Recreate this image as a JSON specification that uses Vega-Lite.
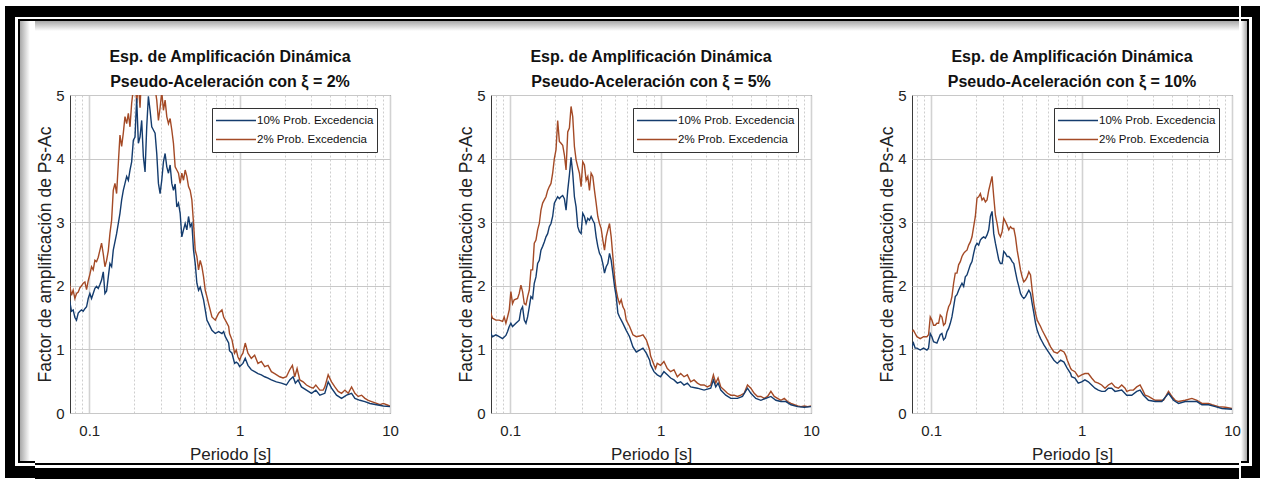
{
"$schema": "https://vega.github.io/schema/vega-lite/v6.json",
"background": "white",
"padding": {"left": 5, "top": 6, "right": 4, "bottom": 1},
"spacing": 0,
"resolve": {"scale": {"color": "independent"}, "legend": {"color": "independent"}},
"config": {
  "font": "Liberation Sans",
  "view": {"stroke": "#3a3a3a", "strokeWidth": 1},
  "title": {"font": "Liberation Sans", "fontSize": 16, "fontWeight": "bold", "lineHeight": 25, "offset": -2, "color": "#111111", "anchor": "middle"},
  "axis": {"labelFont": "Liberation Sans", "labelFontSize": 15, "labelColor": "#222222", "titleFont": "Liberation Sans", "titleFontWeight": "normal", "titleColor": "#222222", "titleFontSize": 17, "domain": false, "ticks": false, "labelFlush": false, "labelOverlap": false},
  "axisY": {"titleFont": "Liberation Sans", "titleFontSize": 17.5},
  "legend": {"orient": "top-right", "offset": 13, "fillColor": "white", "strokeColor": "#333333", "strokeWidth": 1, "padding": 3, "symbolType": "stroke", "symbolSize": 1600, "symbolStrokeWidth": 1.3, "labelFont": "Liberation Sans", "labelFontSize": 11.5, "labelColor": "#111111", "labelOffset": 0, "clipHeight": 19, "rowPadding": 0}
},
"data": {"values": [
{"p":1,"s":"2%","t":0.0725,"v":2.2},{"p":1,"s":"2%","t":0.0743,"v":2.0},{"p":1,"s":"2%","t":0.0762,"v":1.85},{"p":1,"s":"2%","t":0.0782,"v":1.93},{"p":1,"s":"2%","t":0.0803,"v":1.8},{"p":1,"s":"2%","t":0.0823,"v":1.88},{"p":1,"s":"2%","t":0.0845,"v":1.9},{"p":1,"s":"2%","t":0.0867,"v":1.97},{"p":1,"s":"2%","t":0.0889,"v":2.0},{"p":1,"s":"2%","t":0.0912,"v":2.04},{"p":1,"s":"2%","t":0.0936,"v":2.06},{"p":1,"s":"2%","t":0.096,"v":1.94},{"p":1,"s":"2%","t":0.0985,"v":2.08},{"p":1,"s":"2%","t":0.101,"v":2.18},{"p":1,"s":"2%","t":0.1036,"v":2.3},{"p":1,"s":"2%","t":0.1063,"v":2.25},{"p":1,"s":"2%","t":0.1091,"v":2.4},{"p":1,"s":"2%","t":0.1119,"v":2.38},{"p":1,"s":"2%","t":0.1148,"v":2.45},{"p":1,"s":"2%","t":0.1178,"v":2.56},{"p":1,"s":"2%","t":0.1208,"v":2.67},{"p":1,"s":"2%","t":0.124,"v":2.5},{"p":1,"s":"2%","t":0.1272,"v":2.3},{"p":1,"s":"2%","t":0.1305,"v":2.4},{"p":1,"s":"2%","t":0.1339,"v":2.55},{"p":1,"s":"2%","t":0.1373,"v":2.82},{"p":1,"s":"2%","t":0.1409,"v":3.03},{"p":1,"s":"2%","t":0.1445,"v":3.5},{"p":1,"s":"2%","t":0.1483,"v":3.61},{"p":1,"s":"2%","t":0.1521,"v":3.45},{"p":1,"s":"2%","t":0.1561,"v":3.92},{"p":1,"s":"2%","t":0.1601,"v":4.37},{"p":1,"s":"2%","t":0.1643,"v":4.19},{"p":1,"s":"2%","t":0.1685,"v":4.4},{"p":1,"s":"2%","t":0.1729,"v":4.66},{"p":1,"s":"2%","t":0.1774,"v":4.55},{"p":1,"s":"2%","t":0.182,"v":4.71},{"p":1,"s":"2%","t":0.1867,"v":4.5},{"p":1,"s":"2%","t":0.1915,"v":4.87},{"p":1,"s":"2%","t":0.1965,"v":5.1},{"p":1,"s":"2%","t":0.2016,"v":5.3},{"p":1,"s":"2%","t":0.2068,"v":4.87},{"p":1,"s":"2%","t":0.2122,"v":5.2},{"p":1,"s":"2%","t":0.2177,"v":4.8},{"p":1,"s":"2%","t":0.2233,"v":5.4},{"p":1,"s":"2%","t":0.2291,"v":5.2},{"p":1,"s":"2%","t":0.2351,"v":5.1},{"p":1,"s":"2%","t":0.2412,"v":5.4},{"p":1,"s":"2%","t":0.2474,"v":5.5},{"p":1,"s":"2%","t":0.2538,"v":5.3},{"p":1,"s":"2%","t":0.2604,"v":5.3},{"p":1,"s":"2%","t":0.2672,"v":5.2},{"p":1,"s":"2%","t":0.2741,"v":5.1},{"p":1,"s":"2%","t":0.2812,"v":4.92},{"p":1,"s":"2%","t":0.2885,"v":4.6},{"p":1,"s":"2%","t":0.296,"v":4.8},{"p":1,"s":"2%","t":0.3036,"v":5.05},{"p":1,"s":"2%","t":0.3115,"v":4.76},{"p":1,"s":"2%","t":0.3196,"v":4.92},{"p":1,"s":"2%","t":0.3279,"v":4.66},{"p":1,"s":"2%","t":0.3364,"v":4.55},{"p":1,"s":"2%","t":0.3451,"v":4.63},{"p":1,"s":"2%","t":0.3541,"v":4.45},{"p":1,"s":"2%","t":0.3632,"v":4.24},{"p":1,"s":"2%","t":0.3727,"v":3.87},{"p":1,"s":"2%","t":0.3823,"v":3.82},{"p":1,"s":"2%","t":0.3922,"v":3.77},{"p":1,"s":"2%","t":0.4024,"v":3.61},{"p":1,"s":"2%","t":0.4128,"v":3.77},{"p":1,"s":"2%","t":0.4235,"v":3.66},{"p":1,"s":"2%","t":0.4345,"v":3.82},{"p":1,"s":"2%","t":0.4458,"v":3.72},{"p":1,"s":"2%","t":0.4574,"v":3.56},{"p":1,"s":"2%","t":0.4692,"v":3.5},{"p":1,"s":"2%","t":0.4814,"v":3.35},{"p":1,"s":"2%","t":0.4939,"v":2.98},{"p":1,"s":"2%","t":0.5067,"v":2.56},{"p":1,"s":"2%","t":0.5198,"v":2.46},{"p":1,"s":"2%","t":0.5333,"v":2.25},{"p":1,"s":"2%","t":0.5471,"v":2.4},{"p":1,"s":"2%","t":0.5613,"v":2.3},{"p":1,"s":"2%","t":0.5759,"v":2.14},{"p":1,"s":"2%","t":0.5908,"v":1.93},{"p":1,"s":"2%","t":0.6061,"v":1.83},{"p":1,"s":"2%","t":0.6218,"v":1.72},{"p":1,"s":"2%","t":0.6545,"v":1.51},{"p":1,"s":"2%","t":0.6889,"v":1.46},{"p":1,"s":"2%","t":0.7251,"v":1.57},{"p":1,"s":"2%","t":0.7632,"v":1.62},{"p":1,"s":"2%","t":0.783,"v":1.51},{"p":1,"s":"2%","t":0.8033,"v":1.46},{"p":1,"s":"2%","t":0.8455,"v":1.36},{"p":1,"s":"2%","t":0.857,"v":1.25},{"p":1,"s":"2%","t":0.8899,"v":1.15},{"p":1,"s":"2%","t":0.903,"v":1.07},{"p":1,"s":"2%","t":0.926,"v":0.94},{"p":1,"s":"2%","t":0.95,"v":0.99},{"p":1,"s":"2%","t":0.975,"v":0.88},{"p":1,"s":"2%","t":1.0,"v":0.83},{"p":1,"s":"2%","t":1.026,"v":0.9},{"p":1,"s":"2%","t":1.052,"v":0.94},{"p":1,"s":"2%","t":1.09,"v":1.1},{"p":1,"s":"2%","t":1.136,"v":0.94},{"p":1,"s":"2%","t":1.196,"v":0.86},{"p":1,"s":"2%","t":1.259,"v":0.91},{"p":1,"s":"2%","t":1.325,"v":0.78},{"p":1,"s":"2%","t":1.395,"v":0.81},{"p":1,"s":"2%","t":1.468,"v":0.73},{"p":1,"s":"2%","t":1.545,"v":0.75},{"p":1,"s":"2%","t":1.626,"v":0.65},{"p":1,"s":"2%","t":1.711,"v":0.62},{"p":1,"s":"2%","t":1.848,"v":0.57},{"p":1,"s":"2%","t":1.945,"v":0.55},{"p":1,"s":"2%","t":2.047,"v":0.57},{"p":1,"s":"2%","t":2.154,"v":0.68},{"p":1,"s":"2%","t":2.244,"v":0.75},{"p":1,"s":"2%","t":2.326,"v":0.57},{"p":1,"s":"2%","t":2.411,"v":0.7},{"p":1,"s":"2%","t":2.512,"v":0.52},{"p":1,"s":"2%","t":2.644,"v":0.49},{"p":1,"s":"2%","t":2.783,"v":0.44},{"p":1,"s":"2%","t":2.929,"v":0.41},{"p":1,"s":"2%","t":3.083,"v":0.39},{"p":1,"s":"2%","t":3.211,"v":0.44},{"p":1,"s":"2%","t":3.415,"v":0.36},{"p":1,"s":"2%","t":3.594,"v":0.36},{"p":1,"s":"2%","t":3.687,"v":0.41},{"p":1,"s":"2%","t":3.881,"v":0.6},{"p":1,"s":"2%","t":4.085,"v":0.49},{"p":1,"s":"2%","t":4.299,"v":0.41},{"p":1,"s":"2%","t":4.525,"v":0.34},{"p":1,"s":"2%","t":4.763,"v":0.31},{"p":1,"s":"2%","t":5.013,"v":0.36},{"p":1,"s":"2%","t":5.276,"v":0.31},{"p":1,"s":"2%","t":5.553,"v":0.41},{"p":1,"s":"2%","t":5.844,"v":0.31},{"p":1,"s":"2%","t":6.151,"v":0.26},{"p":1,"s":"2%","t":6.474,"v":0.28},{"p":1,"s":"2%","t":6.814,"v":0.23},{"p":1,"s":"2%","t":7.172,"v":0.2},{"p":1,"s":"2%","t":7.548,"v":0.18},{"p":1,"s":"2%","t":8.151,"v":0.15},{"p":1,"s":"2%","t":8.579,"v":0.13},{"p":1,"s":"2%","t":9.029,"v":0.15},{"p":1,"s":"2%","t":9.503,"v":0.13},{"p":1,"s":"2%","t":10,"v":0.11},
{"p":1,"s":"10%","t":0.0725,"v":1.8},{"p":1,"s":"10%","t":0.0743,"v":1.75},{"p":1,"s":"10%","t":0.0762,"v":1.6},{"p":1,"s":"10%","t":0.0782,"v":1.62},{"p":1,"s":"10%","t":0.0803,"v":1.5},{"p":1,"s":"10%","t":0.0823,"v":1.46},{"p":1,"s":"10%","t":0.0845,"v":1.57},{"p":1,"s":"10%","t":0.0867,"v":1.6},{"p":1,"s":"10%","t":0.0889,"v":1.62},{"p":1,"s":"10%","t":0.0912,"v":1.6},{"p":1,"s":"10%","t":0.0936,"v":1.64},{"p":1,"s":"10%","t":0.096,"v":1.67},{"p":1,"s":"10%","t":0.0985,"v":1.8},{"p":1,"s":"10%","t":0.101,"v":1.88},{"p":1,"s":"10%","t":0.1036,"v":1.8},{"p":1,"s":"10%","t":0.1063,"v":1.88},{"p":1,"s":"10%","t":0.1091,"v":1.96},{"p":1,"s":"10%","t":0.1119,"v":1.99},{"p":1,"s":"10%","t":0.1148,"v":1.96},{"p":1,"s":"10%","t":0.1178,"v":2.02},{"p":1,"s":"10%","t":0.1208,"v":2.09},{"p":1,"s":"10%","t":0.124,"v":2.22},{"p":1,"s":"10%","t":0.1272,"v":1.88},{"p":1,"s":"10%","t":0.1305,"v":1.92},{"p":1,"s":"10%","t":0.1339,"v":2.14},{"p":1,"s":"10%","t":0.1373,"v":2.35},{"p":1,"s":"10%","t":0.1409,"v":2.3},{"p":1,"s":"10%","t":0.1445,"v":2.56},{"p":1,"s":"10%","t":0.1521,"v":2.82},{"p":1,"s":"10%","t":0.1561,"v":2.98},{"p":1,"s":"10%","t":0.1601,"v":3.14},{"p":1,"s":"10%","t":0.1643,"v":3.35},{"p":1,"s":"10%","t":0.1685,"v":3.5},{"p":1,"s":"10%","t":0.1729,"v":3.61},{"p":1,"s":"10%","t":0.1774,"v":3.72},{"p":1,"s":"10%","t":0.182,"v":3.66},{"p":1,"s":"10%","t":0.1867,"v":3.82},{"p":1,"s":"10%","t":0.1915,"v":3.95},{"p":1,"s":"10%","t":0.1965,"v":4.29},{"p":1,"s":"10%","t":0.2016,"v":4.34},{"p":1,"s":"10%","t":0.2068,"v":4.95},{"p":1,"s":"10%","t":0.2122,"v":4.24},{"p":1,"s":"10%","t":0.2177,"v":4.34},{"p":1,"s":"10%","t":0.2233,"v":4.6},{"p":1,"s":"10%","t":0.2291,"v":4.03},{"p":1,"s":"10%","t":0.2351,"v":3.79},{"p":1,"s":"10%","t":0.2412,"v":4.5},{"p":1,"s":"10%","t":0.2474,"v":4.98},{"p":1,"s":"10%","t":0.2538,"v":4.76},{"p":1,"s":"10%","t":0.2604,"v":4.5},{"p":1,"s":"10%","t":0.2672,"v":4.45},{"p":1,"s":"10%","t":0.2741,"v":4.4},{"p":1,"s":"10%","t":0.2812,"v":4.08},{"p":1,"s":"10%","t":0.2885,"v":3.61},{"p":1,"s":"10%","t":0.296,"v":3.45},{"p":1,"s":"10%","t":0.3036,"v":3.66},{"p":1,"s":"10%","t":0.3115,"v":3.95},{"p":1,"s":"10%","t":0.3196,"v":4.08},{"p":1,"s":"10%","t":0.3279,"v":3.87},{"p":1,"s":"10%","t":0.3364,"v":3.77},{"p":1,"s":"10%","t":0.3451,"v":3.9},{"p":1,"s":"10%","t":0.3541,"v":3.61},{"p":1,"s":"10%","t":0.3632,"v":3.5},{"p":1,"s":"10%","t":0.3727,"v":3.6},{"p":1,"s":"10%","t":0.3823,"v":3.24},{"p":1,"s":"10%","t":0.3922,"v":3.3},{"p":1,"s":"10%","t":0.4024,"v":3.14},{"p":1,"s":"10%","t":0.4128,"v":2.77},{"p":1,"s":"10%","t":0.4235,"v":2.88},{"p":1,"s":"10%","t":0.4345,"v":2.98},{"p":1,"s":"10%","t":0.4458,"v":2.88},{"p":1,"s":"10%","t":0.4574,"v":3.09},{"p":1,"s":"10%","t":0.4692,"v":2.93},{"p":1,"s":"10%","t":0.4814,"v":2.98},{"p":1,"s":"10%","t":0.4939,"v":2.56},{"p":1,"s":"10%","t":0.5067,"v":2.35},{"p":1,"s":"10%","t":0.5198,"v":2.04},{"p":1,"s":"10%","t":0.5333,"v":1.93},{"p":1,"s":"10%","t":0.5471,"v":1.98},{"p":1,"s":"10%","t":0.5613,"v":1.88},{"p":1,"s":"10%","t":0.5759,"v":1.78},{"p":1,"s":"10%","t":0.5908,"v":1.62},{"p":1,"s":"10%","t":0.6061,"v":1.46},{"p":1,"s":"10%","t":0.6218,"v":1.41},{"p":1,"s":"10%","t":0.6545,"v":1.3},{"p":1,"s":"10%","t":0.6889,"v":1.25},{"p":1,"s":"10%","t":0.7251,"v":1.28},{"p":1,"s":"10%","t":0.7632,"v":1.25},{"p":1,"s":"10%","t":0.783,"v":1.28},{"p":1,"s":"10%","t":0.8033,"v":1.2},{"p":1,"s":"10%","t":0.8455,"v":1.1},{"p":1,"s":"10%","t":0.857,"v":0.98},{"p":1,"s":"10%","t":0.8899,"v":0.94},{"p":1,"s":"10%","t":0.926,"v":0.78},{"p":1,"s":"10%","t":0.95,"v":0.8},{"p":1,"s":"10%","t":0.975,"v":0.78},{"p":1,"s":"10%","t":1.0,"v":0.73},{"p":1,"s":"10%","t":1.052,"v":0.78},{"p":1,"s":"10%","t":1.09,"v":0.86},{"p":1,"s":"10%","t":1.136,"v":0.75},{"p":1,"s":"10%","t":1.196,"v":0.68},{"p":1,"s":"10%","t":1.259,"v":0.65},{"p":1,"s":"10%","t":1.325,"v":0.62},{"p":1,"s":"10%","t":1.395,"v":0.6},{"p":1,"s":"10%","t":1.468,"v":0.57},{"p":1,"s":"10%","t":1.545,"v":0.55},{"p":1,"s":"10%","t":1.626,"v":0.52},{"p":1,"s":"10%","t":1.756,"v":0.49},{"p":1,"s":"10%","t":1.896,"v":0.47},{"p":1,"s":"10%","t":2.047,"v":0.44},{"p":1,"s":"10%","t":2.154,"v":0.52},{"p":1,"s":"10%","t":2.268,"v":0.57},{"p":1,"s":"10%","t":2.348,"v":0.47},{"p":1,"s":"10%","t":2.448,"v":0.52},{"p":1,"s":"10%","t":2.577,"v":0.41},{"p":1,"s":"10%","t":2.783,"v":0.36},{"p":1,"s":"10%","t":3.005,"v":0.31},{"p":1,"s":"10%","t":3.211,"v":0.36},{"p":1,"s":"10%","t":3.415,"v":0.28},{"p":1,"s":"10%","t":3.687,"v":0.31},{"p":1,"s":"10%","t":3.881,"v":0.49},{"p":1,"s":"10%","t":4.085,"v":0.39},{"p":1,"s":"10%","t":4.411,"v":0.28},{"p":1,"s":"10%","t":4.763,"v":0.23},{"p":1,"s":"10%","t":5.143,"v":0.28},{"p":1,"s":"10%","t":5.553,"v":0.31},{"p":1,"s":"10%","t":5.844,"v":0.23},{"p":1,"s":"10%","t":6.31,"v":0.2},{"p":1,"s":"10%","t":6.814,"v":0.18},{"p":1,"s":"10%","t":7.358,"v":0.15},{"p":1,"s":"10%","t":8.151,"v":0.13},{"p":1,"s":"10%","t":9.029,"v":0.11},{"p":1,"s":"10%","t":10,"v":0.1},
{"p":2,"s":"2%","t":0.0724,"v":1.7},{"p":2,"s":"2%","t":0.0743,"v":1.57},{"p":2,"s":"2%","t":0.0762,"v":1.49},{"p":2,"s":"2%","t":0.0803,"v":1.46},{"p":2,"s":"2%","t":0.0845,"v":1.46},{"p":2,"s":"2%","t":0.0889,"v":1.44},{"p":2,"s":"2%","t":0.0912,"v":1.51},{"p":2,"s":"2%","t":0.0936,"v":1.41},{"p":2,"s":"2%","t":0.096,"v":1.51},{"p":2,"s":"2%","t":0.0985,"v":1.62},{"p":2,"s":"2%","t":0.101,"v":1.91},{"p":2,"s":"2%","t":0.1036,"v":1.72},{"p":2,"s":"2%","t":0.1063,"v":1.78},{"p":2,"s":"2%","t":0.1119,"v":1.8},{"p":2,"s":"2%","t":0.1148,"v":1.88},{"p":2,"s":"2%","t":0.1178,"v":2.01},{"p":2,"s":"2%","t":0.1208,"v":1.91},{"p":2,"s":"2%","t":0.124,"v":1.72},{"p":2,"s":"2%","t":0.1272,"v":1.7},{"p":2,"s":"2%","t":0.1305,"v":1.83},{"p":2,"s":"2%","t":0.1339,"v":1.93},{"p":2,"s":"2%","t":0.1373,"v":2.25},{"p":2,"s":"2%","t":0.1409,"v":2.25},{"p":2,"s":"2%","t":0.1445,"v":2.67},{"p":2,"s":"2%","t":0.1483,"v":2.72},{"p":2,"s":"2%","t":0.1521,"v":2.88},{"p":2,"s":"2%","t":0.1561,"v":2.98},{"p":2,"s":"2%","t":0.1601,"v":3.19},{"p":2,"s":"2%","t":0.1643,"v":3.3},{"p":2,"s":"2%","t":0.1685,"v":3.35},{"p":2,"s":"2%","t":0.1729,"v":3.4},{"p":2,"s":"2%","t":0.1774,"v":3.5},{"p":2,"s":"2%","t":0.182,"v":3.56},{"p":2,"s":"2%","t":0.1867,"v":3.61},{"p":2,"s":"2%","t":0.1915,"v":3.77},{"p":2,"s":"2%","t":0.1965,"v":4.0},{"p":2,"s":"2%","t":0.2016,"v":4.14},{"p":2,"s":"2%","t":0.2068,"v":4.6},{"p":2,"s":"2%","t":0.2122,"v":4.27},{"p":2,"s":"2%","t":0.2177,"v":4.24},{"p":2,"s":"2%","t":0.2233,"v":4.21},{"p":2,"s":"2%","t":0.2291,"v":4.06},{"p":2,"s":"2%","t":0.2351,"v":3.82},{"p":2,"s":"2%","t":0.2412,"v":4.42},{"p":2,"s":"2%","t":0.2474,"v":4.48},{"p":2,"s":"2%","t":0.2538,"v":4.82},{"p":2,"s":"2%","t":0.2604,"v":4.66},{"p":2,"s":"2%","t":0.2672,"v":4.19},{"p":2,"s":"2%","t":0.2741,"v":3.98},{"p":2,"s":"2%","t":0.2812,"v":3.87},{"p":2,"s":"2%","t":0.2885,"v":3.77},{"p":2,"s":"2%","t":0.296,"v":3.56},{"p":2,"s":"2%","t":0.3036,"v":3.95},{"p":2,"s":"2%","t":0.3115,"v":3.9},{"p":2,"s":"2%","t":0.3196,"v":3.66},{"p":2,"s":"2%","t":0.3279,"v":3.72},{"p":2,"s":"2%","t":0.3364,"v":3.5},{"p":2,"s":"2%","t":0.3451,"v":3.77},{"p":2,"s":"2%","t":0.3541,"v":3.72},{"p":2,"s":"2%","t":0.3632,"v":3.5},{"p":2,"s":"2%","t":0.3727,"v":3.3},{"p":2,"s":"2%","t":0.3823,"v":3.09},{"p":2,"s":"2%","t":0.3922,"v":2.98},{"p":2,"s":"2%","t":0.4024,"v":2.9},{"p":2,"s":"2%","t":0.4128,"v":2.72},{"p":2,"s":"2%","t":0.4235,"v":2.56},{"p":2,"s":"2%","t":0.4345,"v":2.77},{"p":2,"s":"2%","t":0.4458,"v":2.88},{"p":2,"s":"2%","t":0.4574,"v":2.98},{"p":2,"s":"2%","t":0.4692,"v":2.77},{"p":2,"s":"2%","t":0.4814,"v":2.46},{"p":2,"s":"2%","t":0.4939,"v":2.14},{"p":2,"s":"2%","t":0.5067,"v":1.93},{"p":2,"s":"2%","t":0.5198,"v":1.8},{"p":2,"s":"2%","t":0.5333,"v":1.72},{"p":2,"s":"2%","t":0.5471,"v":1.78},{"p":2,"s":"2%","t":0.5613,"v":1.67},{"p":2,"s":"2%","t":0.5759,"v":1.62},{"p":2,"s":"2%","t":0.5908,"v":1.46},{"p":2,"s":"2%","t":0.6218,"v":1.36},{"p":2,"s":"2%","t":0.6545,"v":1.23},{"p":2,"s":"2%","t":0.6889,"v":1.2},{"p":2,"s":"2%","t":0.7251,"v":1.21},{"p":2,"s":"2%","t":0.7632,"v":1.23},{"p":2,"s":"2%","t":0.8033,"v":1.15},{"p":2,"s":"2%","t":0.8455,"v":0.99},{"p":2,"s":"2%","t":0.857,"v":0.9},{"p":2,"s":"2%","t":0.903,"v":0.76},{"p":2,"s":"2%","t":0.926,"v":0.7},{"p":2,"s":"2%","t":0.95,"v":0.78},{"p":2,"s":"2%","t":1.0,"v":0.75},{"p":2,"s":"2%","t":1.052,"v":0.81},{"p":2,"s":"2%","t":1.108,"v":0.7},{"p":2,"s":"2%","t":1.166,"v":0.65},{"p":2,"s":"2%","t":1.227,"v":0.68},{"p":2,"s":"2%","t":1.292,"v":0.57},{"p":2,"s":"2%","t":1.359,"v":0.62},{"p":2,"s":"2%","t":1.431,"v":0.57},{"p":2,"s":"2%","t":1.506,"v":0.6},{"p":2,"s":"2%","t":1.585,"v":0.49},{"p":2,"s":"2%","t":1.668,"v":0.52},{"p":2,"s":"2%","t":1.756,"v":0.47},{"p":2,"s":"2%","t":1.848,"v":0.44},{"p":2,"s":"2%","t":1.945,"v":0.44},{"p":2,"s":"2%","t":2.047,"v":0.41},{"p":2,"s":"2%","t":2.154,"v":0.44},{"p":2,"s":"2%","t":2.244,"v":0.6},{"p":2,"s":"2%","t":2.326,"v":0.47},{"p":2,"s":"2%","t":2.411,"v":0.55},{"p":2,"s":"2%","t":2.512,"v":0.41},{"p":2,"s":"2%","t":2.644,"v":0.36},{"p":2,"s":"2%","t":2.783,"v":0.31},{"p":2,"s":"2%","t":2.929,"v":0.28},{"p":2,"s":"2%","t":3.083,"v":0.28},{"p":2,"s":"2%","t":3.245,"v":0.26},{"p":2,"s":"2%","t":3.415,"v":0.28},{"p":2,"s":"2%","t":3.594,"v":0.31},{"p":2,"s":"2%","t":3.783,"v":0.44},{"p":2,"s":"2%","t":3.981,"v":0.39},{"p":2,"s":"2%","t":4.191,"v":0.31},{"p":2,"s":"2%","t":4.411,"v":0.26},{"p":2,"s":"2%","t":4.642,"v":0.26},{"p":2,"s":"2%","t":4.886,"v":0.23},{"p":2,"s":"2%","t":5.143,"v":0.26},{"p":2,"s":"2%","t":5.412,"v":0.34},{"p":2,"s":"2%","t":5.697,"v":0.26},{"p":2,"s":"2%","t":5.996,"v":0.23},{"p":2,"s":"2%","t":6.31,"v":0.2},{"p":2,"s":"2%","t":6.642,"v":0.23},{"p":2,"s":"2%","t":6.99,"v":0.18},{"p":2,"s":"2%","t":7.358,"v":0.15},{"p":2,"s":"2%","t":7.744,"v":0.13},{"p":2,"s":"2%","t":8.151,"v":0.11},{"p":2,"s":"2%","t":8.579,"v":0.1},{"p":2,"s":"2%","t":9.029,"v":0.11},{"p":2,"s":"2%","t":9.503,"v":0.1},{"p":2,"s":"2%","t":10,"v":0.11},
{"p":2,"s":"10%","t":0.0724,"v":1.41},{"p":2,"s":"10%","t":0.0743,"v":1.25},{"p":2,"s":"10%","t":0.0762,"v":1.2},{"p":2,"s":"10%","t":0.0803,"v":1.23},{"p":2,"s":"10%","t":0.0845,"v":1.2},{"p":2,"s":"10%","t":0.0889,"v":1.17},{"p":2,"s":"10%","t":0.0936,"v":1.22},{"p":2,"s":"10%","t":0.096,"v":1.28},{"p":2,"s":"10%","t":0.0985,"v":1.36},{"p":2,"s":"10%","t":0.101,"v":1.41},{"p":2,"s":"10%","t":0.1036,"v":1.36},{"p":2,"s":"10%","t":0.1091,"v":1.41},{"p":2,"s":"10%","t":0.1148,"v":1.46},{"p":2,"s":"10%","t":0.1178,"v":1.62},{"p":2,"s":"10%","t":0.1208,"v":1.67},{"p":2,"s":"10%","t":0.124,"v":1.46},{"p":2,"s":"10%","t":0.1272,"v":1.41},{"p":2,"s":"10%","t":0.1305,"v":1.51},{"p":2,"s":"10%","t":0.1339,"v":1.67},{"p":2,"s":"10%","t":0.1373,"v":1.83},{"p":2,"s":"10%","t":0.1409,"v":1.8},{"p":2,"s":"10%","t":0.1445,"v":2.04},{"p":2,"s":"10%","t":0.1483,"v":2.14},{"p":2,"s":"10%","t":0.1521,"v":2.35},{"p":2,"s":"10%","t":0.1561,"v":2.4},{"p":2,"s":"10%","t":0.1601,"v":2.56},{"p":2,"s":"10%","t":0.1643,"v":2.62},{"p":2,"s":"10%","t":0.1685,"v":2.69},{"p":2,"s":"10%","t":0.1729,"v":2.77},{"p":2,"s":"10%","t":0.1774,"v":2.82},{"p":2,"s":"10%","t":0.182,"v":2.93},{"p":2,"s":"10%","t":0.1867,"v":2.98},{"p":2,"s":"10%","t":0.1915,"v":3.09},{"p":2,"s":"10%","t":0.1965,"v":3.3},{"p":2,"s":"10%","t":0.2016,"v":3.35},{"p":2,"s":"10%","t":0.2068,"v":3.4},{"p":2,"s":"10%","t":0.2122,"v":3.37},{"p":2,"s":"10%","t":0.2177,"v":3.4},{"p":2,"s":"10%","t":0.2233,"v":3.42},{"p":2,"s":"10%","t":0.2291,"v":3.37},{"p":2,"s":"10%","t":0.2351,"v":3.19},{"p":2,"s":"10%","t":0.2412,"v":3.5},{"p":2,"s":"10%","t":0.2474,"v":3.74},{"p":2,"s":"10%","t":0.2538,"v":4.02},{"p":2,"s":"10%","t":0.2604,"v":3.77},{"p":2,"s":"10%","t":0.2672,"v":3.4},{"p":2,"s":"10%","t":0.2741,"v":3.24},{"p":2,"s":"10%","t":0.2812,"v":2.93},{"p":2,"s":"10%","t":0.2885,"v":2.85},{"p":2,"s":"10%","t":0.296,"v":2.82},{"p":2,"s":"10%","t":0.3036,"v":3.14},{"p":2,"s":"10%","t":0.3115,"v":3.09},{"p":2,"s":"10%","t":0.3196,"v":2.98},{"p":2,"s":"10%","t":0.3279,"v":3.06},{"p":2,"s":"10%","t":0.3364,"v":3.03},{"p":2,"s":"10%","t":0.3451,"v":3.09},{"p":2,"s":"10%","t":0.3541,"v":3.03},{"p":2,"s":"10%","t":0.3632,"v":2.98},{"p":2,"s":"10%","t":0.3727,"v":2.77},{"p":2,"s":"10%","t":0.3823,"v":2.62},{"p":2,"s":"10%","t":0.3922,"v":2.51},{"p":2,"s":"10%","t":0.4024,"v":2.46},{"p":2,"s":"10%","t":0.4128,"v":2.35},{"p":2,"s":"10%","t":0.4235,"v":2.2},{"p":2,"s":"10%","t":0.4345,"v":2.3},{"p":2,"s":"10%","t":0.4458,"v":2.35},{"p":2,"s":"10%","t":0.4574,"v":2.51},{"p":2,"s":"10%","t":0.4692,"v":2.4},{"p":2,"s":"10%","t":0.4814,"v":2.2},{"p":2,"s":"10%","t":0.4939,"v":1.99},{"p":2,"s":"10%","t":0.5067,"v":1.83},{"p":2,"s":"10%","t":0.5198,"v":1.57},{"p":2,"s":"10%","t":0.5333,"v":1.51},{"p":2,"s":"10%","t":0.5471,"v":1.46},{"p":2,"s":"10%","t":0.5613,"v":1.41},{"p":2,"s":"10%","t":0.5908,"v":1.3},{"p":2,"s":"10%","t":0.6218,"v":1.2},{"p":2,"s":"10%","t":0.6545,"v":1.04},{"p":2,"s":"10%","t":0.6889,"v":0.96},{"p":2,"s":"10%","t":0.7251,"v":0.99},{"p":2,"s":"10%","t":0.7632,"v":1.02},{"p":2,"s":"10%","t":0.8033,"v":0.94},{"p":2,"s":"10%","t":0.8455,"v":0.83},{"p":2,"s":"10%","t":0.857,"v":0.76},{"p":2,"s":"10%","t":0.903,"v":0.65},{"p":2,"s":"10%","t":0.95,"v":0.6},{"p":2,"s":"10%","t":1.0,"v":0.57},{"p":2,"s":"10%","t":1.052,"v":0.65},{"p":2,"s":"10%","t":1.108,"v":0.6},{"p":2,"s":"10%","t":1.166,"v":0.55},{"p":2,"s":"10%","t":1.227,"v":0.52},{"p":2,"s":"10%","t":1.292,"v":0.47},{"p":2,"s":"10%","t":1.359,"v":0.49},{"p":2,"s":"10%","t":1.431,"v":0.44},{"p":2,"s":"10%","t":1.506,"v":0.47},{"p":2,"s":"10%","t":1.585,"v":0.41},{"p":2,"s":"10%","t":1.756,"v":0.39},{"p":2,"s":"10%","t":1.945,"v":0.36},{"p":2,"s":"10%","t":2.154,"v":0.39},{"p":2,"s":"10%","t":2.244,"v":0.52},{"p":2,"s":"10%","t":2.326,"v":0.41},{"p":2,"s":"10%","t":2.411,"v":0.47},{"p":2,"s":"10%","t":2.512,"v":0.36},{"p":2,"s":"10%","t":2.712,"v":0.28},{"p":2,"s":"10%","t":2.929,"v":0.23},{"p":2,"s":"10%","t":3.245,"v":0.23},{"p":2,"s":"10%","t":3.503,"v":0.26},{"p":2,"s":"10%","t":3.783,"v":0.39},{"p":2,"s":"10%","t":3.981,"v":0.31},{"p":2,"s":"10%","t":4.299,"v":0.23},{"p":2,"s":"10%","t":4.642,"v":0.2},{"p":2,"s":"10%","t":5.013,"v":0.23},{"p":2,"s":"10%","t":5.412,"v":0.26},{"p":2,"s":"10%","t":5.844,"v":0.2},{"p":2,"s":"10%","t":6.31,"v":0.18},{"p":2,"s":"10%","t":6.814,"v":0.18},{"p":2,"s":"10%","t":7.358,"v":0.13},{"p":2,"s":"10%","t":8.151,"v":0.1},{"p":2,"s":"10%","t":9.029,"v":0.09},{"p":2,"s":"10%","t":10,"v":0.1},
{"p":3,"s":"2%","t":0.0724,"v":1.3},{"p":3,"s":"2%","t":0.0743,"v":1.28},{"p":3,"s":"2%","t":0.0762,"v":1.3},{"p":3,"s":"2%","t":0.0782,"v":1.25},{"p":3,"s":"2%","t":0.0803,"v":1.2},{"p":3,"s":"2%","t":0.0845,"v":1.17},{"p":3,"s":"2%","t":0.0889,"v":1.2},{"p":3,"s":"2%","t":0.0936,"v":1.2},{"p":3,"s":"2%","t":0.096,"v":1.23},{"p":3,"s":"2%","t":0.0985,"v":1.51},{"p":3,"s":"2%","t":0.101,"v":1.46},{"p":3,"s":"2%","t":0.1036,"v":1.38},{"p":3,"s":"2%","t":0.1063,"v":1.38},{"p":3,"s":"2%","t":0.1091,"v":1.41},{"p":3,"s":"2%","t":0.1119,"v":1.41},{"p":3,"s":"2%","t":0.1148,"v":1.54},{"p":3,"s":"2%","t":0.1178,"v":1.51},{"p":3,"s":"2%","t":0.1208,"v":1.38},{"p":3,"s":"2%","t":0.124,"v":1.41},{"p":3,"s":"2%","t":0.1272,"v":1.57},{"p":3,"s":"2%","t":0.1305,"v":1.67},{"p":3,"s":"2%","t":0.1339,"v":1.72},{"p":3,"s":"2%","t":0.1373,"v":1.83},{"p":3,"s":"2%","t":0.1409,"v":2.04},{"p":3,"s":"2%","t":0.1445,"v":2.2},{"p":3,"s":"2%","t":0.1483,"v":2.2},{"p":3,"s":"2%","t":0.1521,"v":2.33},{"p":3,"s":"2%","t":0.1561,"v":2.38},{"p":3,"s":"2%","t":0.1601,"v":2.46},{"p":3,"s":"2%","t":0.1643,"v":2.51},{"p":3,"s":"2%","t":0.1685,"v":2.54},{"p":3,"s":"2%","t":0.1729,"v":2.56},{"p":3,"s":"2%","t":0.1774,"v":2.64},{"p":3,"s":"2%","t":0.182,"v":2.69},{"p":3,"s":"2%","t":0.1867,"v":2.77},{"p":3,"s":"2%","t":0.1915,"v":2.93},{"p":3,"s":"2%","t":0.1965,"v":3.09},{"p":3,"s":"2%","t":0.2016,"v":3.38},{"p":3,"s":"2%","t":0.2068,"v":3.4},{"p":3,"s":"2%","t":0.2122,"v":3.45},{"p":3,"s":"2%","t":0.2177,"v":3.35},{"p":3,"s":"2%","t":0.2233,"v":3.38},{"p":3,"s":"2%","t":0.2291,"v":3.32},{"p":3,"s":"2%","t":0.2351,"v":3.35},{"p":3,"s":"2%","t":0.2412,"v":3.5},{"p":3,"s":"2%","t":0.2474,"v":3.61},{"p":3,"s":"2%","t":0.2538,"v":3.72},{"p":3,"s":"2%","t":0.2604,"v":3.4},{"p":3,"s":"2%","t":0.2672,"v":3.11},{"p":3,"s":"2%","t":0.2741,"v":2.98},{"p":3,"s":"2%","t":0.2812,"v":2.82},{"p":3,"s":"2%","t":0.2885,"v":2.77},{"p":3,"s":"2%","t":0.296,"v":2.85},{"p":3,"s":"2%","t":0.3036,"v":3.06},{"p":3,"s":"2%","t":0.3115,"v":3.01},{"p":3,"s":"2%","t":0.3196,"v":2.95},{"p":3,"s":"2%","t":0.3279,"v":2.88},{"p":3,"s":"2%","t":0.3364,"v":2.93},{"p":3,"s":"2%","t":0.3451,"v":2.9},{"p":3,"s":"2%","t":0.3541,"v":2.9},{"p":3,"s":"2%","t":0.3632,"v":2.77},{"p":3,"s":"2%","t":0.3727,"v":2.56},{"p":3,"s":"2%","t":0.3823,"v":2.41},{"p":3,"s":"2%","t":0.3922,"v":2.25},{"p":3,"s":"2%","t":0.4024,"v":2.14},{"p":3,"s":"2%","t":0.4128,"v":2.06},{"p":3,"s":"2%","t":0.4235,"v":2.09},{"p":3,"s":"2%","t":0.4345,"v":2.14},{"p":3,"s":"2%","t":0.4458,"v":2.22},{"p":3,"s":"2%","t":0.4574,"v":2.17},{"p":3,"s":"2%","t":0.4692,"v":1.93},{"p":3,"s":"2%","t":0.4814,"v":1.72},{"p":3,"s":"2%","t":0.4939,"v":1.57},{"p":3,"s":"2%","t":0.5067,"v":1.46},{"p":3,"s":"2%","t":0.5198,"v":1.41},{"p":3,"s":"2%","t":0.5333,"v":1.36},{"p":3,"s":"2%","t":0.5471,"v":1.3},{"p":3,"s":"2%","t":0.5613,"v":1.25},{"p":3,"s":"2%","t":0.5908,"v":1.15},{"p":3,"s":"2%","t":0.6218,"v":1.04},{"p":3,"s":"2%","t":0.6545,"v":0.96},{"p":3,"s":"2%","t":0.6889,"v":0.94},{"p":3,"s":"2%","t":0.7251,"v":0.99},{"p":3,"s":"2%","t":0.7632,"v":0.96},{"p":3,"s":"2%","t":0.783,"v":0.91},{"p":3,"s":"2%","t":0.8033,"v":0.83},{"p":3,"s":"2%","t":0.8455,"v":0.7},{"p":3,"s":"2%","t":0.857,"v":0.68},{"p":3,"s":"2%","t":0.903,"v":0.65},{"p":3,"s":"2%","t":0.95,"v":0.57},{"p":3,"s":"2%","t":1.0,"v":0.6},{"p":3,"s":"2%","t":1.052,"v":0.62},{"p":3,"s":"2%","t":1.108,"v":0.62},{"p":3,"s":"2%","t":1.166,"v":0.55},{"p":3,"s":"2%","t":1.227,"v":0.49},{"p":3,"s":"2%","t":1.292,"v":0.47},{"p":3,"s":"2%","t":1.359,"v":0.44},{"p":3,"s":"2%","t":1.431,"v":0.39},{"p":3,"s":"2%","t":1.506,"v":0.44},{"p":3,"s":"2%","t":1.585,"v":0.47},{"p":3,"s":"2%","t":1.668,"v":0.41},{"p":3,"s":"2%","t":1.756,"v":0.39},{"p":3,"s":"2%","t":1.848,"v":0.44},{"p":3,"s":"2%","t":1.945,"v":0.39},{"p":3,"s":"2%","t":1.995,"v":0.34},{"p":3,"s":"2%","t":2.1,"v":0.36},{"p":3,"s":"2%","t":2.21,"v":0.36},{"p":3,"s":"2%","t":2.326,"v":0.41},{"p":3,"s":"2%","t":2.448,"v":0.44},{"p":3,"s":"2%","t":2.55,"v":0.36},{"p":3,"s":"2%","t":2.644,"v":0.28},{"p":3,"s":"2%","t":2.783,"v":0.26},{"p":3,"s":"2%","t":2.929,"v":0.23},{"p":3,"s":"2%","t":3.083,"v":0.2},{"p":3,"s":"2%","t":3.245,"v":0.2},{"p":3,"s":"2%","t":3.503,"v":0.2},{"p":3,"s":"2%","t":3.783,"v":0.34},{"p":3,"s":"2%","t":3.981,"v":0.26},{"p":3,"s":"2%","t":4.191,"v":0.2},{"p":3,"s":"2%","t":4.411,"v":0.18},{"p":3,"s":"2%","t":4.886,"v":0.2},{"p":3,"s":"2%","t":5.412,"v":0.23},{"p":3,"s":"2%","t":5.844,"v":0.2},{"p":3,"s":"2%","t":6.31,"v":0.15},{"p":3,"s":"2%","t":6.99,"v":0.15},{"p":3,"s":"2%","t":7.358,"v":0.13},{"p":3,"s":"2%","t":8.151,"v":0.1},{"p":3,"s":"2%","t":9.029,"v":0.09},{"p":3,"s":"2%","t":10,"v":0.07},
{"p":3,"s":"10%","t":0.0724,"v":1.12},{"p":3,"s":"10%","t":0.0743,"v":1.04},{"p":3,"s":"10%","t":0.0762,"v":1.1},{"p":3,"s":"10%","t":0.0782,"v":1.02},{"p":3,"s":"10%","t":0.0803,"v":1.02},{"p":3,"s":"10%","t":0.0845,"v":0.99},{"p":3,"s":"10%","t":0.0889,"v":1.02},{"p":3,"s":"10%","t":0.0936,"v":0.99},{"p":3,"s":"10%","t":0.096,"v":1.02},{"p":3,"s":"10%","t":0.0985,"v":1.25},{"p":3,"s":"10%","t":0.101,"v":1.2},{"p":3,"s":"10%","t":0.1036,"v":1.12},{"p":3,"s":"10%","t":0.1091,"v":1.1},{"p":3,"s":"10%","t":0.1148,"v":1.23},{"p":3,"s":"10%","t":0.1178,"v":1.25},{"p":3,"s":"10%","t":0.1208,"v":1.15},{"p":3,"s":"10%","t":0.124,"v":1.18},{"p":3,"s":"10%","t":0.1272,"v":1.28},{"p":3,"s":"10%","t":0.1305,"v":1.33},{"p":3,"s":"10%","t":0.1339,"v":1.41},{"p":3,"s":"10%","t":0.1373,"v":1.51},{"p":3,"s":"10%","t":0.1409,"v":1.67},{"p":3,"s":"10%","t":0.1445,"v":1.83},{"p":3,"s":"10%","t":0.1483,"v":1.86},{"p":3,"s":"10%","t":0.1521,"v":1.93},{"p":3,"s":"10%","t":0.1561,"v":1.99},{"p":3,"s":"10%","t":0.1601,"v":2.04},{"p":3,"s":"10%","t":0.1643,"v":1.99},{"p":3,"s":"10%","t":0.1685,"v":2.14},{"p":3,"s":"10%","t":0.1729,"v":2.17},{"p":3,"s":"10%","t":0.1774,"v":2.25},{"p":3,"s":"10%","t":0.182,"v":2.33},{"p":3,"s":"10%","t":0.1867,"v":2.38},{"p":3,"s":"10%","t":0.1915,"v":2.51},{"p":3,"s":"10%","t":0.1965,"v":2.62},{"p":3,"s":"10%","t":0.2016,"v":2.67},{"p":3,"s":"10%","t":0.2068,"v":2.64},{"p":3,"s":"10%","t":0.2122,"v":2.72},{"p":3,"s":"10%","t":0.2177,"v":2.75},{"p":3,"s":"10%","t":0.2233,"v":2.77},{"p":3,"s":"10%","t":0.2291,"v":2.75},{"p":3,"s":"10%","t":0.2351,"v":2.8},{"p":3,"s":"10%","t":0.2412,"v":2.88},{"p":3,"s":"10%","t":0.2474,"v":3.09},{"p":3,"s":"10%","t":0.2538,"v":3.17},{"p":3,"s":"10%","t":0.2604,"v":2.82},{"p":3,"s":"10%","t":0.2672,"v":2.67},{"p":3,"s":"10%","t":0.2741,"v":2.54},{"p":3,"s":"10%","t":0.2812,"v":2.41},{"p":3,"s":"10%","t":0.2885,"v":2.35},{"p":3,"s":"10%","t":0.296,"v":2.35},{"p":3,"s":"10%","t":0.3036,"v":2.54},{"p":3,"s":"10%","t":0.3115,"v":2.51},{"p":3,"s":"10%","t":0.3196,"v":2.46},{"p":3,"s":"10%","t":0.3279,"v":2.46},{"p":3,"s":"10%","t":0.3364,"v":2.43},{"p":3,"s":"10%","t":0.3451,"v":2.38},{"p":3,"s":"10%","t":0.3541,"v":2.35},{"p":3,"s":"10%","t":0.3632,"v":2.22},{"p":3,"s":"10%","t":0.3727,"v":2.09},{"p":3,"s":"10%","t":0.3823,"v":1.99},{"p":3,"s":"10%","t":0.3922,"v":1.88},{"p":3,"s":"10%","t":0.4024,"v":1.83},{"p":3,"s":"10%","t":0.4128,"v":1.8},{"p":3,"s":"10%","t":0.4235,"v":1.83},{"p":3,"s":"10%","t":0.4345,"v":1.88},{"p":3,"s":"10%","t":0.4458,"v":1.93},{"p":3,"s":"10%","t":0.4574,"v":1.88},{"p":3,"s":"10%","t":0.4692,"v":1.72},{"p":3,"s":"10%","t":0.4814,"v":1.57},{"p":3,"s":"10%","t":0.4939,"v":1.41},{"p":3,"s":"10%","t":0.5067,"v":1.3},{"p":3,"s":"10%","t":0.5198,"v":1.23},{"p":3,"s":"10%","t":0.5333,"v":1.17},{"p":3,"s":"10%","t":0.5471,"v":1.12},{"p":3,"s":"10%","t":0.5613,"v":1.07},{"p":3,"s":"10%","t":0.5908,"v":0.99},{"p":3,"s":"10%","t":0.6218,"v":0.91},{"p":3,"s":"10%","t":0.6545,"v":0.83},{"p":3,"s":"10%","t":0.6889,"v":0.78},{"p":3,"s":"10%","t":0.7251,"v":0.83},{"p":3,"s":"10%","t":0.7632,"v":0.8},{"p":3,"s":"10%","t":0.8033,"v":0.7},{"p":3,"s":"10%","t":0.8455,"v":0.62},{"p":3,"s":"10%","t":0.857,"v":0.57},{"p":3,"s":"10%","t":0.903,"v":0.55},{"p":3,"s":"10%","t":0.95,"v":0.47},{"p":3,"s":"10%","t":1.0,"v":0.49},{"p":3,"s":"10%","t":1.052,"v":0.52},{"p":3,"s":"10%","t":1.108,"v":0.49},{"p":3,"s":"10%","t":1.166,"v":0.44},{"p":3,"s":"10%","t":1.227,"v":0.39},{"p":3,"s":"10%","t":1.292,"v":0.36},{"p":3,"s":"10%","t":1.359,"v":0.34},{"p":3,"s":"10%","t":1.431,"v":0.34},{"p":3,"s":"10%","t":1.506,"v":0.39},{"p":3,"s":"10%","t":1.585,"v":0.39},{"p":3,"s":"10%","t":1.668,"v":0.34},{"p":3,"s":"10%","t":1.848,"v":0.36},{"p":3,"s":"10%","t":1.995,"v":0.28},{"p":3,"s":"10%","t":2.154,"v":0.28},{"p":3,"s":"10%","t":2.326,"v":0.34},{"p":3,"s":"10%","t":2.448,"v":0.36},{"p":3,"s":"10%","t":2.577,"v":0.28},{"p":3,"s":"10%","t":2.783,"v":0.2},{"p":3,"s":"10%","t":3.083,"v":0.18},{"p":3,"s":"10%","t":3.415,"v":0.18},{"p":3,"s":"10%","t":3.783,"v":0.31},{"p":3,"s":"10%","t":4.085,"v":0.2},{"p":3,"s":"10%","t":4.411,"v":0.15},{"p":3,"s":"10%","t":4.886,"v":0.18},{"p":3,"s":"10%","t":5.412,"v":0.18},{"p":3,"s":"10%","t":5.844,"v":0.18},{"p":3,"s":"10%","t":6.31,"v":0.13},{"p":3,"s":"10%","t":6.99,"v":0.13},{"p":3,"s":"10%","t":7.744,"v":0.1},{"p":3,"s":"10%","t":8.579,"v":0.07},{"p":3,"s":"10%","t":10,"v":0.06}
]},
"hconcat": [
  {"spacing": 0, "vconcat": [
    {"data": {"values": [{}]}, "width": 30, "height": 11, "view": {"stroke": null}, "mark": {"type": "rect", "color": "#000000"}, "encoding": {}},
    {"data": {"values": [{}]}, "width": 30, "height": 2, "view": {"stroke": null}, "mark": {"type": "rect", "color": {"gradient": "linear", "x1": 0, "y1": 0, "x2": 1, "y2": 0, "stops": [{"offset": 0, "color": "#000000"}, {"offset": 0.333, "color": "#000000"}, {"offset": 0.333, "color": "#ffffff"}, {"offset": 1, "color": "#ffffff"}]}}, "encoding": {}},
    {"data": {"values": [{}]}, "width": 30, "height": 2, "view": {"stroke": null}, "mark": {"type": "rect", "color": {"gradient": "linear", "x1": 0, "y1": 0, "x2": 1, "y2": 0, "stops": [{"offset": 0, "color": "#000000"}, {"offset": 0.333, "color": "#000000"}, {"offset": 0.333, "color": "#ffffff"}, {"offset": 0.433, "color": "#ffffff"}, {"offset": 0.433, "color": "#000000"}, {"offset": 1, "color": "#000000"}]}}, "encoding": {}},
    {"data": {"values": [{}]}, "width": 30, "height": 440, "view": {"stroke": null}, "mark": {"type": "rect", "color": {"gradient": "linear", "x1": 0, "y1": 0, "x2": 1, "y2": 0, "stops": [{"offset": 0, "color": "#000000"}, {"offset": 0.333, "color": "#000000"}, {"offset": 0.333, "color": "#ffffff"}, {"offset": 0.433, "color": "#ffffff"}, {"offset": 0.433, "color": "#000000"}, {"offset": 0.5, "color": "#000000"}, {"offset": 0.5, "color": "#a8a8a8"}, {"offset": 0.833, "color": "#ffffff"}, {"offset": 1, "color": "#ffffff"}]}}, "encoding": {}},
    {"data": {"values": [{}]}, "width": 30, "height": 2, "view": {"stroke": null}, "mark": {"type": "rect", "color": {"gradient": "linear", "x1": 0, "y1": 0, "x2": 1, "y2": 0, "stops": [{"offset": 0, "color": "#000000"}, {"offset": 0.333, "color": "#000000"}, {"offset": 0.333, "color": "#ffffff"}, {"offset": 0.433, "color": "#ffffff"}, {"offset": 0.433, "color": "#000000"}, {"offset": 1, "color": "#000000"}]}}, "encoding": {}},
    {"data": {"values": [{}]}, "width": 30, "height": 3, "view": {"stroke": null}, "mark": {"type": "rect", "color": {"gradient": "linear", "x1": 0, "y1": 0, "x2": 1, "y2": 0, "stops": [{"offset": 0, "color": "#000000"}, {"offset": 0.333, "color": "#000000"}, {"offset": 0.333, "color": "#ffffff"}, {"offset": 1, "color": "#ffffff"}]}}, "encoding": {}},
    {"data": {"values": [{}]}, "width": 30, "height": 12, "view": {"stroke": null}, "mark": {"type": "rect", "color": "#000000"}, "encoding": {}}
  ]},
  {"spacing": 0,
   "resolve": {"scale": {"color": "independent"}, "legend": {"color": "independent"}},
   "vconcat": [
    {"data": {"values": [{}]}, "width": 1204, "height": 42, "view": {"stroke": null},
     "mark": {"type": "rect", "color": {"gradient": "linear", "x1": 0, "y1": 0, "x2": 0, "y2": 1, "stops": [{"offset": 0, "color": "#000000"}, {"offset": 0.262, "color": "#000000"}, {"offset": 0.262, "color": "#ffffff"}, {"offset": 0.31, "color": "#ffffff"}, {"offset": 0.31, "color": "#000000"}, {"offset": 0.357, "color": "#000000"}, {"offset": 0.357, "color": "#a8a8a8"}, {"offset": 0.595, "color": "#ffffff"}, {"offset": 1, "color": "#ffffff"}]}},
     "encoding": {}},
    {"spacing": 0,
     "resolve": {"scale": {"color": "independent"}, "legend": {"color": "independent"}},
     "hconcat": [
      {"data": {"values": [{}]}, "width": 1, "height": 1, "view": {"stroke": null}, "mark": {"type": "rect", "color": "#ffffff", "opacity": 0}, "encoding": {}},
      {"spacing": 58,
       "resolve": {"scale": {"color": "independent"}, "legend": {"color": "independent"}},
       "hconcat": [
        {"width": 320, "height": 318,
         "title": {"text": ["Esp. de Amplificación Dinámica", "Pseudo-Aceleración con ξ = 2%"]},
         "transform": [{"filter": "datum.p == 1"}],
         "mark": {"type": "line", "strokeWidth": 1.4, "clip": true},
         "encoding": {
          "x": {"field": "t", "type": "quantitative", "title": "Periodo [s]", "scale": {"type": "log", "domain": [0.0745, 10], "nice": false},
                "axis": {"values": [0.08,0.09,0.1,0.2,0.3,0.4,0.5,0.6,0.7,0.8,0.9,1,2,3,4,5,6,7,8,9,10], "labelExpr": "datum.value == 0.1 ? '0.1' : datum.value == 1 ? '1' : datum.value == 10 ? '10' : ''", "gridDash": {"condition": {"test": "datum.value == 0.1 || datum.value == 1 || datum.value == 10", "value": []}, "value": [2, 2]}, "gridColor": {"condition": {"test": "datum.value == 0.1 || datum.value == 1 || datum.value == 10", "value": "#d2d2d2"}, "value": "#c2c2c2"}, "gridWidth": {"condition": {"test": "datum.value == 0.1 || datum.value == 1 || datum.value == 10", "value": 1.6}, "value": 0.8}, "labelPadding": 10, "titlePadding": 8}},
          "y": {"field": "v", "type": "quantitative", "title": "Factor de amplificación de Ps-Ac", "scale": {"domain": [0, 5], "nice": false},
                "axis": {"values": [0,1,2,3,4,5], "gridColor": "#c8c8c8", "labelPadding": 6, "titlePadding": 1}},
          "color": {"field": "s", "type": "nominal", "scale": {"domain": ["10%", "2%"], "range": ["#143c6e", "#a44a26"]}, "legend": {"title": null, "labelExpr": "datum.label + ' Prob. Excedencia'"}}
         }},
        {"width": 320, "height": 318,
         "title": {"text": ["Esp. de Amplificación Dinámica", "Pseudo-Aceleración con ξ = 5%"]},
         "transform": [{"filter": "datum.p == 2"}],
         "mark": {"type": "line", "strokeWidth": 1.4, "clip": true},
         "encoding": {
          "x": {"field": "t", "type": "quantitative", "title": "Periodo [s]", "scale": {"type": "log", "domain": [0.0745, 10], "nice": false},
                "axis": {"values": [0.08,0.09,0.1,0.2,0.3,0.4,0.5,0.6,0.7,0.8,0.9,1,2,3,4,5,6,7,8,9,10], "labelExpr": "datum.value == 0.1 ? '0.1' : datum.value == 1 ? '1' : datum.value == 10 ? '10' : ''", "gridDash": {"condition": {"test": "datum.value == 0.1 || datum.value == 1 || datum.value == 10", "value": []}, "value": [2, 2]}, "gridColor": {"condition": {"test": "datum.value == 0.1 || datum.value == 1 || datum.value == 10", "value": "#d2d2d2"}, "value": "#c2c2c2"}, "gridWidth": {"condition": {"test": "datum.value == 0.1 || datum.value == 1 || datum.value == 10", "value": 1.6}, "value": 0.8}, "labelPadding": 10, "titlePadding": 8}},
          "y": {"field": "v", "type": "quantitative", "title": "Factor de amplificación de Ps-Ac", "scale": {"domain": [0, 5], "nice": false},
                "axis": {"values": [0,1,2,3,4,5], "gridColor": "#c8c8c8", "labelPadding": 6, "titlePadding": 1}},
          "color": {"field": "s", "type": "nominal", "scale": {"domain": ["10%", "2%"], "range": ["#143c6e", "#a44a26"]}, "legend": {"title": null, "labelExpr": "datum.label + ' Prob. Excedencia'"}}
         }},
        {"width": 320, "height": 318,
         "title": {"text": ["Esp. de Amplificación Dinámica", "Pseudo-Aceleración con ξ = 10%"]},
         "transform": [{"filter": "datum.p == 3"}],
         "mark": {"type": "line", "strokeWidth": 1.4, "clip": true},
         "encoding": {
          "x": {"field": "t", "type": "quantitative", "title": "Periodo [s]", "scale": {"type": "log", "domain": [0.0745, 10], "nice": false},
                "axis": {"values": [0.08,0.09,0.1,0.2,0.3,0.4,0.5,0.6,0.7,0.8,0.9,1,2,3,4,5,6,7,8,9,10], "labelExpr": "datum.value == 0.1 ? '0.1' : datum.value == 1 ? '1' : datum.value == 10 ? '10' : ''", "gridDash": {"condition": {"test": "datum.value == 0.1 || datum.value == 1 || datum.value == 10", "value": []}, "value": [2, 2]}, "gridColor": {"condition": {"test": "datum.value == 0.1 || datum.value == 1 || datum.value == 10", "value": "#d2d2d2"}, "value": "#c2c2c2"}, "gridWidth": {"condition": {"test": "datum.value == 0.1 || datum.value == 1 || datum.value == 10", "value": 1.6}, "value": 0.8}, "labelPadding": 10, "titlePadding": 8}},
          "y": {"field": "v", "type": "quantitative", "title": "Factor de amplificación de Ps-Ac", "scale": {"domain": [0, 5], "nice": false},
                "axis": {"values": [0,1,2,3,4,5], "gridColor": "#c8c8c8", "labelPadding": 6, "titlePadding": 1}},
          "color": {"field": "s", "type": "nominal", "scale": {"domain": ["10%", "2%"], "range": ["#143c6e", "#a44a26"]}, "legend": {"title": null, "labelExpr": "datum.label + ' Prob. Excedencia'"}}
         }}
       ]}
     ]},
    {"data": {"values": [{}]}, "width": 1204, "height": 17, "view": {"stroke": null},
     "mark": {"type": "rect", "color": {"gradient": "linear", "x1": 0, "y1": 0, "x2": 0, "y2": 1, "stops": [{"offset": 0, "color": "#000000"}, {"offset": 0.118, "color": "#000000"}, {"offset": 0.118, "color": "#ffffff"}, {"offset": 0.294, "color": "#ffffff"}, {"offset": 0.294, "color": "#000000"}, {"offset": 1, "color": "#000000"}]}},
     "encoding": {}}
   ]},
  {"spacing": 0, "vconcat": [
    {"data": {"values": [{}]}, "width": 19, "height": 11, "view": {"stroke": null}, "mark": {"type": "rect", "color": "#000000"}, "encoding": {}},
    {"data": {"values": [{}]}, "width": 19, "height": 2, "view": {"stroke": null}, "mark": {"type": "rect", "color": {"gradient": "linear", "x1": 0, "y1": 0, "x2": 1, "y2": 0, "stops": [{"offset": 0, "color": "#ffffff"}, {"offset": 0.579, "color": "#ffffff"}, {"offset": 0.579, "color": "#000000"}, {"offset": 1, "color": "#000000"}]}}, "encoding": {}},
    {"data": {"values": [{}]}, "width": 19, "height": 2, "view": {"stroke": null}, "mark": {"type": "rect", "color": {"gradient": "linear", "x1": 0, "y1": 0, "x2": 1, "y2": 0, "stops": [{"offset": 0, "color": "#000000"}, {"offset": 0.421, "color": "#000000"}, {"offset": 0.421, "color": "#ffffff"}, {"offset": 0.579, "color": "#ffffff"}, {"offset": 0.579, "color": "#000000"}, {"offset": 1, "color": "#000000"}]}}, "encoding": {}},
    {"data": {"values": [{}]}, "width": 19, "height": 440, "view": {"stroke": null}, "mark": {"type": "rect", "color": {"gradient": "linear", "x1": 0, "y1": 0, "x2": 1, "y2": 0, "stops": [{"offset": 0, "color": "#ffffff"}, {"offset": 0.316, "color": "#a8a8a8"}, {"offset": 0.316, "color": "#000000"}, {"offset": 0.421, "color": "#000000"}, {"offset": 0.421, "color": "#ffffff"}, {"offset": 0.579, "color": "#ffffff"}, {"offset": 0.579, "color": "#000000"}, {"offset": 1, "color": "#000000"}]}}, "encoding": {}},
    {"data": {"values": [{}]}, "width": 19, "height": 2, "view": {"stroke": null}, "mark": {"type": "rect", "color": {"gradient": "linear", "x1": 0, "y1": 0, "x2": 1, "y2": 0, "stops": [{"offset": 0, "color": "#000000"}, {"offset": 0.421, "color": "#000000"}, {"offset": 0.421, "color": "#ffffff"}, {"offset": 0.579, "color": "#ffffff"}, {"offset": 0.579, "color": "#000000"}, {"offset": 1, "color": "#000000"}]}}, "encoding": {}},
    {"data": {"values": [{}]}, "width": 19, "height": 3, "view": {"stroke": null}, "mark": {"type": "rect", "color": {"gradient": "linear", "x1": 0, "y1": 0, "x2": 1, "y2": 0, "stops": [{"offset": 0, "color": "#ffffff"}, {"offset": 0.579, "color": "#ffffff"}, {"offset": 0.579, "color": "#000000"}, {"offset": 1, "color": "#000000"}]}}, "encoding": {}},
    {"data": {"values": [{}]}, "width": 19, "height": 12, "view": {"stroke": null}, "mark": {"type": "rect", "color": "#000000"}, "encoding": {}}
  ]}
]
}
